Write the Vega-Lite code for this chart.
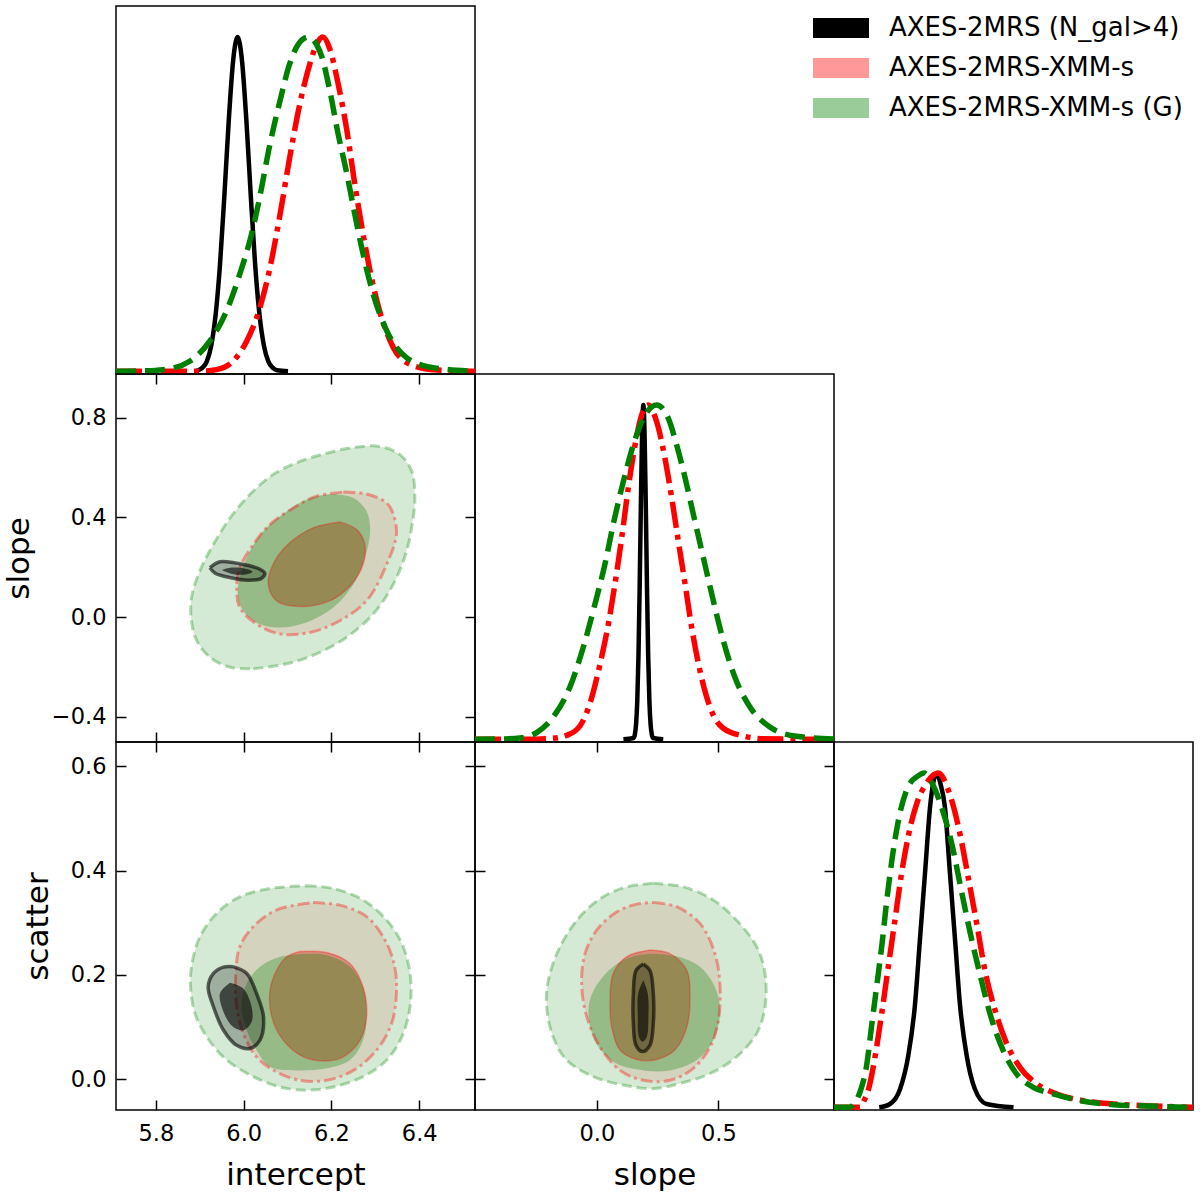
{
  "$schema": "https://vega.github.io/schema/vega-lite/v6.json",
  "padding": {"left": 2, "top": 5, "right": 5, "bottom": 5},
  "columns": 3,
  "spacing": 0,
  "bounds": "flush",
  "resolve": {"scale": {"x": "independent", "y": "independent"}, "axis": {"x": "independent", "y": "independent"}},
  "datasets": {
    "legend": [{"name": "AXES-2MRS (N_gal>4)"}, {"name": "AXES-2MRS-XMM-s"}, {"name": "AXES-2MRS-XMM-s (G)"}],
    "m_intercept_2MRS": [{"x":5.890,"y":0},{"x":5.896,"y":0.003},{"x":5.906,"y":0.011},{"x":5.916,"y":0.03},{"x":5.926,"y":0.077},{"x":5.936,"y":0.169},{"x":5.946,"y":0.32},{"x":5.956,"y":0.527},{"x":5.966,"y":0.752},{"x":5.976,"y":0.931},{"x":5.986,"y":1},{"x":5.996,"y":0.931},{"x":6.006,"y":0.752},{"x":6.016,"y":0.527},{"x":6.026,"y":0.32},{"x":6.036,"y":0.169},{"x":6.046,"y":0.077},{"x":6.056,"y":0.03},{"x":6.066,"y":0.011},{"x":6.076,"y":0.003},{"x":6.101,"y":0}],
    "m_intercept_XMM": [{"x":5.709,"y":0},{"x":5.900,"y":0},{"x":5.938,"y":0.005},{"x":5.976,"y":0.031},{"x":6.007,"y":0.091},{"x":6.037,"y":0.191},{"x":6.060,"y":0.311},{"x":6.083,"y":0.471},{"x":6.105,"y":0.641},{"x":6.128,"y":0.801},{"x":6.151,"y":0.921},{"x":6.165,"y":0.975},{"x":6.180,"y":1},{"x":6.196,"y":0.965},{"x":6.215,"y":0.861},{"x":6.235,"y":0.721},{"x":6.253,"y":0.561},{"x":6.272,"y":0.411},{"x":6.291,"y":0.281},{"x":6.314,"y":0.161},{"x":6.341,"y":0.071},{"x":6.379,"y":0.021},{"x":6.432,"y":0.005},{"x":6.527,"y":0}],
    "m_intercept_XMMG": [{"x":5.709,"y":0},{"x":5.760,"y":0.001},{"x":5.817,"y":0.005},{"x":5.878,"y":0.031},{"x":5.923,"y":0.091},{"x":5.961,"y":0.181},{"x":5.991,"y":0.291},{"x":6.018,"y":0.411},{"x":6.035,"y":0.511},{"x":6.060,"y":0.681},{"x":6.083,"y":0.811},{"x":6.105,"y":0.921},{"x":6.125,"y":0.98},{"x":6.147,"y":1},{"x":6.165,"y":0.98},{"x":6.178,"y":0.941},{"x":6.196,"y":0.841},{"x":6.215,"y":0.711},{"x":6.235,"y":0.591},{"x":6.253,"y":0.471},{"x":6.272,"y":0.351},{"x":6.295,"y":0.231},{"x":6.326,"y":0.121},{"x":6.371,"y":0.041},{"x":6.432,"y":0.011},{"x":6.527,"y":0}],
    "m_slope_2MRS": [{"x":0.109,"y":0},{"x":0.151,"y":0.004},{"x":0.156,"y":0.014},{"x":0.161,"y":0.044},{"x":0.166,"y":0.114},{"x":0.171,"y":0.25},{"x":0.176,"y":0.458},{"x":0.181,"y":0.707},{"x":0.186,"y":0.917},{"x":0.191,"y":1},{"x":0.196,"y":0.917},{"x":0.201,"y":0.707},{"x":0.206,"y":0.458},{"x":0.211,"y":0.25},{"x":0.216,"y":0.114},{"x":0.221,"y":0.044},{"x":0.226,"y":0.014},{"x":0.231,"y":0.004},{"x":0.273,"y":0}],
    "m_slope_XMM": [{"x":-0.502,"y":0},{"x":-0.300,"y":0},{"x":-0.200,"y":0.002},{"x":-0.152,"y":0.006},{"x":-0.124,"y":0.012},{"x":-0.070,"y":0.04},{"x":-0.029,"y":0.107},{"x":0.013,"y":0.226},{"x":0.047,"y":0.345},{"x":0.074,"y":0.464},{"x":0.102,"y":0.603},{"x":0.129,"y":0.752},{"x":0.157,"y":0.881},{"x":0.184,"y":0.970},{"x":0.211,"y":1},{"x":0.246,"y":0.950},{"x":0.280,"y":0.841},{"x":0.308,"y":0.722},{"x":0.335,"y":0.593},{"x":0.363,"y":0.464},{"x":0.390,"y":0.335},{"x":0.424,"y":0.206},{"x":0.465,"y":0.097},{"x":0.520,"y":0.033},{"x":0.602,"y":0.01},{"x":0.685,"y":0.002},{"x":0.976,"y":0}],
    "m_slope_XMMG": [{"x":-0.502,"y":0},{"x":-0.400,"y":0.001},{"x":-0.317,"y":0.004},{"x":-0.248,"y":0.02},{"x":-0.180,"y":0.067},{"x":-0.111,"y":0.157},{"x":-0.056,"y":0.276},{"x":-0.008,"y":0.405},{"x":0.033,"y":0.524},{"x":0.067,"y":0.643},{"x":0.109,"y":0.772},{"x":0.150,"y":0.881},{"x":0.198,"y":0.970},{"x":0.246,"y":1},{"x":0.294,"y":0.960},{"x":0.328,"y":0.881},{"x":0.363,"y":0.782},{"x":0.397,"y":0.673},{"x":0.438,"y":0.544},{"x":0.479,"y":0.415},{"x":0.520,"y":0.296},{"x":0.568,"y":0.186},{"x":0.630,"y":0.097},{"x":0.712,"y":0.037},{"x":0.822,"y":0.009},{"x":0.976,"y":0.001}],
    "m_scatter_2MRS": [{"x":0.030,"y":0},{"x":0.051,"y":0.01},{"x":0.071,"y":0.055},{"x":0.087,"y":0.154},{"x":0.100,"y":0.303},{"x":0.110,"y":0.502},{"x":0.120,"y":0.701},{"x":0.130,"y":0.900},{"x":0.136,"y":0.97},{"x":0.143,"y":1},{"x":0.150,"y":0.97},{"x":0.159,"y":0.900},{"x":0.169,"y":0.701},{"x":0.179,"y":0.502},{"x":0.189,"y":0.303},{"x":0.202,"y":0.154},{"x":0.218,"y":0.055},{"x":0.241,"y":0.01},{"x":0.294,"y":0}],
    "m_scatter_XMM": [{"x":-0.059,"y":0},{"x":-0.008,"y":0},{"x":0.000,"y":0.02},{"x":0.009,"y":0.055},{"x":0.022,"y":0.154},{"x":0.035,"y":0.283},{"x":0.048,"y":0.423},{"x":0.061,"y":0.562},{"x":0.074,"y":0.701},{"x":0.087,"y":0.811},{"x":0.104,"y":0.910},{"x":0.123,"y":0.970},{"x":0.146,"y":1},{"x":0.169,"y":0.935},{"x":0.189,"y":0.816},{"x":0.205,"y":0.687},{"x":0.222,"y":0.547},{"x":0.238,"y":0.408},{"x":0.258,"y":0.289},{"x":0.281,"y":0.189},{"x":0.307,"y":0.119},{"x":0.340,"y":0.070},{"x":0.379,"y":0.040},{"x":0.431,"y":0.020},{"x":0.491,"y":0.010},{"x":0.589,"y":0.003},{"x":0.647,"y":0}],
    "m_scatter_XMMG": [{"x":-0.059,"y":0},{"x":-0.028,"y":0},{"x":-0.018,"y":0.015},{"x":-0.008,"y":0.045},{"x":0.005,"y":0.124},{"x":0.015,"y":0.244},{"x":0.025,"y":0.363},{"x":0.035,"y":0.483},{"x":0.045,"y":0.622},{"x":0.055,"y":0.741},{"x":0.068,"y":0.861},{"x":0.087,"y":0.960},{"x":0.105,"y":0.99},{"x":0.118,"y":1},{"x":0.130,"y":0.98},{"x":0.153,"y":0.896},{"x":0.173,"y":0.786},{"x":0.189,"y":0.667},{"x":0.208,"y":0.528},{"x":0.228,"y":0.398},{"x":0.248,"y":0.279},{"x":0.274,"y":0.169},{"x":0.300,"y":0.100},{"x":0.333,"y":0.060},{"x":0.372,"y":0.040},{"x":0.425,"y":0.020},{"x":0.491,"y":0.008},{"x":0.556,"y":0.004},{"x":0.647,"y":0}],
    "c_IS_XMMG_outer": [{"x":6.022,"y":-0.208},{"x":6.098,"y":-0.188},{"x":6.166,"y":-0.148},{"x":6.234,"y":-0.082},{"x":6.295,"y":0.012},{"x":6.341,"y":0.132},{"x":6.371,"y":0.265},{"x":6.386,"y":0.398},{"x":6.390,"y":0.478},{"x":6.383,"y":0.585},{"x":6.356,"y":0.652},{"x":6.310,"y":0.685},{"x":6.250,"y":0.681},{"x":6.189,"y":0.658},{"x":6.128,"y":0.625},{"x":6.067,"y":0.572},{"x":6.014,"y":0.492},{"x":5.969,"y":0.398},{"x":5.931,"y":0.292},{"x":5.900,"y":0.185},{"x":5.881,"y":0.078},{"x":5.881,"y":-0.015},{"x":5.893,"y":-0.095},{"x":5.923,"y":-0.162},{"x":5.969,"y":-0.202},{"x":6.022,"y":-0.208}],
    "c_IS_XMMG_inner": [{"x":6.204,"y":0.494},{"x":6.250,"y":0.478},{"x":6.280,"y":0.425},{"x":6.288,"y":0.345},{"x":6.276,"y":0.238},{"x":6.250,"y":0.132},{"x":6.204,"y":0.038},{"x":6.143,"y":-0.022},{"x":6.075,"y":-0.042},{"x":6.022,"y":-0.015},{"x":5.991,"y":0.052},{"x":5.988,"y":0.132},{"x":6.007,"y":0.238},{"x":6.045,"y":0.345},{"x":6.098,"y":0.425},{"x":6.151,"y":0.478},{"x":6.204,"y":0.494}],
    "c_IS_XMM_outer": [{"x":6.227,"y":0.502},{"x":6.280,"y":0.494},{"x":6.326,"y":0.458},{"x":6.341,"y":0.412},{"x":6.348,"y":0.332},{"x":6.326,"y":0.212},{"x":6.280,"y":0.065},{"x":6.219,"y":-0.015},{"x":6.151,"y":-0.062},{"x":6.083,"y":-0.068},{"x":6.029,"y":-0.028},{"x":5.991,"y":0.038},{"x":5.984,"y":0.118},{"x":5.991,"y":0.198},{"x":6.022,"y":0.292},{"x":6.060,"y":0.372},{"x":6.113,"y":0.438},{"x":6.166,"y":0.485},{"x":6.227,"y":0.502}],
    "c_IS_XMM_inner": [{"x":6.219,"y":0.382},{"x":6.257,"y":0.352},{"x":6.276,"y":0.292},{"x":6.272,"y":0.212},{"x":6.246,"y":0.132},{"x":6.196,"y":0.065},{"x":6.128,"y":0.042},{"x":6.075,"y":0.065},{"x":6.056,"y":0.132},{"x":6.067,"y":0.212},{"x":6.101,"y":0.292},{"x":6.158,"y":0.358},{"x":6.219,"y":0.382}],
    "c_IS_2MRS_outer": [{"x":5.923,"y":0.198},{"x":5.946,"y":0.222},{"x":5.991,"y":0.214},{"x":6.037,"y":0.192},{"x":6.048,"y":0.176},{"x":6.040,"y":0.155},{"x":6.010,"y":0.148},{"x":5.970,"y":0.158},{"x":5.935,"y":0.176},{"x":5.923,"y":0.198}],
    "c_IS_2MRS_inner": [{"x":5.950,"y":0.189},{"x":5.969,"y":0.198},{"x":5.999,"y":0.196},{"x":6.020,"y":0.182},{"x":6.007,"y":0.172},{"x":5.976,"y":0.172},{"x":5.950,"y":0.189}],
    "c_IC_XMMG_outer": [{"x":6.143,"y":0.371},{"x":6.204,"y":0.366},{"x":6.272,"y":0.344},{"x":6.326,"y":0.305},{"x":6.360,"y":0.261},{"x":6.379,"y":0.203},{"x":6.379,"y":0.139},{"x":6.360,"y":0.081},{"x":6.326,"y":0.037},{"x":6.272,"y":0.005},{"x":6.204,"y":-0.015},{"x":6.143,"y":-0.021},{"x":6.083,"y":-0.015},{"x":6.022,"y":0.005},{"x":5.961,"y":0.037},{"x":5.916,"y":0.081},{"x":5.889,"y":0.126},{"x":5.879,"y":0.177},{"x":5.881,"y":0.216},{"x":5.900,"y":0.273},{"x":5.938,"y":0.318},{"x":5.991,"y":0.350},{"x":6.060,"y":0.366},{"x":6.143,"y":0.371}],
    "c_IC_XMMG_inner": [{"x":6.128,"y":0.240},{"x":6.189,"y":0.238},{"x":6.242,"y":0.216},{"x":6.272,"y":0.177},{"x":6.280,"y":0.126},{"x":6.272,"y":0.075},{"x":6.242,"y":0.037},{"x":6.189,"y":0.021},{"x":6.121,"y":0.017},{"x":6.060,"y":0.024},{"x":6.029,"y":0.056},{"x":6.007,"y":0.094},{"x":5.995,"y":0.139},{"x":6.007,"y":0.184},{"x":6.037,"y":0.216},{"x":6.083,"y":0.235},{"x":6.128,"y":0.240}],
    "c_IC_XMM_outer": [{"x":6.158,"y":0.339},{"x":6.219,"y":0.334},{"x":6.280,"y":0.312},{"x":6.322,"y":0.267},{"x":6.344,"y":0.216},{"x":6.348,"y":0.165},{"x":6.337,"y":0.107},{"x":6.303,"y":0.056},{"x":6.250,"y":0.017},{"x":6.189,"y":-0.002},{"x":6.128,"y":-0.002},{"x":6.075,"y":0.014},{"x":6.029,"y":0.043},{"x":5.999,"y":0.088},{"x":5.984,"y":0.139},{"x":5.982,"y":0.203},{"x":5.991,"y":0.254},{"x":6.022,"y":0.293},{"x":6.075,"y":0.325},{"x":6.158,"y":0.339}],
    "c_IC_XMM_inner": [{"x":6.128,"y":0.245},{"x":6.189,"y":0.243},{"x":6.242,"y":0.222},{"x":6.272,"y":0.177},{"x":6.280,"y":0.120},{"x":6.265,"y":0.075},{"x":6.227,"y":0.043},{"x":6.189,"y":0.035},{"x":6.136,"y":0.043},{"x":6.090,"y":0.075},{"x":6.064,"y":0.120},{"x":6.060,"y":0.171},{"x":6.075,"y":0.209},{"x":6.098,"y":0.235},{"x":6.128,"y":0.245}],
    "c_IC_2MRS_outer": [{"x":5.976,"y":0.216},{"x":6.007,"y":0.203},{"x":6.029,"y":0.165},{"x":6.045,"y":0.120},{"x":6.037,"y":0.075},{"x":6.014,"y":0.059},{"x":5.984,"y":0.065},{"x":5.954,"y":0.094},{"x":5.931,"y":0.139},{"x":5.919,"y":0.177},{"x":5.931,"y":0.203},{"x":5.954,"y":0.215},{"x":5.976,"y":0.216}],
    "c_IC_2MRS_inner": [{"x":5.969,"y":0.185},{"x":5.999,"y":0.174},{"x":6.018,"y":0.139},{"x":6.018,"y":0.110},{"x":5.999,"y":0.094},{"x":5.976,"y":0.100},{"x":5.954,"y":0.129},{"x":5.946,"y":0.165},{"x":5.969,"y":0.185}],
    "c_SC_XMMG_outer": [{"x":0.232,"y":0.376},{"x":0.356,"y":0.369},{"x":0.479,"y":0.344},{"x":0.575,"y":0.305},{"x":0.658,"y":0.254},{"x":0.692,"y":0.203},{"x":0.692,"y":0.139},{"x":0.658,"y":0.088},{"x":0.575,"y":0.043},{"x":0.466,"y":0.011},{"x":0.342,"y":-0.008},{"x":0.232,"y":-0.018},{"x":0.109,"y":-0.011},{"x":-0.015,"y":0.005},{"x":-0.125,"y":0.037},{"x":-0.180,"y":0.081},{"x":-0.207,"y":0.139},{"x":-0.200,"y":0.190},{"x":-0.152,"y":0.254},{"x":-0.070,"y":0.312},{"x":0.026,"y":0.350},{"x":0.122,"y":0.369},{"x":0.232,"y":0.376}],
    "c_SC_XMMG_inner": [{"x":0.218,"y":0.241},{"x":0.328,"y":0.236},{"x":0.424,"y":0.216},{"x":0.486,"y":0.177},{"x":0.507,"y":0.126},{"x":0.479,"y":0.075},{"x":0.411,"y":0.037},{"x":0.301,"y":0.017},{"x":0.191,"y":0.017},{"x":0.081,"y":0.030},{"x":0.006,"y":0.062},{"x":-0.031,"y":0.107},{"x":-0.029,"y":0.152},{"x":0.013,"y":0.190},{"x":0.081,"y":0.221},{"x":0.150,"y":0.236},{"x":0.218,"y":0.241}],
    "c_SC_XMM_outer": [{"x":0.232,"y":0.339},{"x":0.328,"y":0.331},{"x":0.424,"y":0.299},{"x":0.486,"y":0.241},{"x":0.507,"y":0.177},{"x":0.500,"y":0.113},{"x":0.466,"y":0.062},{"x":0.397,"y":0.021},{"x":0.301,"y":-0.002},{"x":0.191,"y":-0.002},{"x":0.095,"y":0.017},{"x":0.013,"y":0.062},{"x":-0.042,"y":0.120},{"x":-0.063,"y":0.184},{"x":-0.049,"y":0.241},{"x":-0.001,"y":0.286},{"x":0.081,"y":0.321},{"x":0.164,"y":0.336},{"x":0.232,"y":0.339}],
    "c_SC_XMM_inner": [{"x":0.218,"y":0.248},{"x":0.301,"y":0.241},{"x":0.370,"y":0.209},{"x":0.383,"y":0.158},{"x":0.370,"y":0.100},{"x":0.321,"y":0.056},{"x":0.246,"y":0.038},{"x":0.164,"y":0.038},{"x":0.095,"y":0.056},{"x":0.061,"y":0.100},{"x":0.054,"y":0.152},{"x":0.067,"y":0.203},{"x":0.122,"y":0.235},{"x":0.218,"y":0.248}],
    "c_SC_2MRS_outer": [{"x":0.191,"y":0.221},{"x":0.218,"y":0.209},{"x":0.232,"y":0.165},{"x":0.232,"y":0.107},{"x":0.218,"y":0.065},{"x":0.188,"y":0.053},{"x":0.161,"y":0.065},{"x":0.150,"y":0.107},{"x":0.150,"y":0.165},{"x":0.161,"y":0.209},{"x":0.191,"y":0.221}],
    "c_SC_2MRS_inner": [{"x":0.191,"y":0.190},{"x":0.209,"y":0.165},{"x":0.212,"y":0.120},{"x":0.205,"y":0.081},{"x":0.188,"y":0.072},{"x":0.173,"y":0.081},{"x":0.168,"y":0.120},{"x":0.170,"y":0.165},{"x":0.191,"y":0.190}]
  },
  "concat": [
    {
      "width": 359, "height": 368,
      "layer": [
        {"data": {"name": "m_intercept_2MRS"}, "mark": {"type": "line", "color": "#000000", "strokeWidth": 4.5, "interpolate": "monotone"},
         "encoding": {"x": {"field": "x", "type": "quantitative", "scale": {"domain": [5.709, 6.527], "nice": false, "zero": false}, "axis": {"orient": "bottom", "values": [5.8, 6.0, 6.2, 6.4], "labels": false, "title": null}},
                      "y": {"field": "y", "type": "quantitative", "scale": {"domain": [-0.008, 1.093], "nice": false, "zero": false}, "axis": null}}},
        {"data": {"name": "m_intercept_XMM"}, "mark": {"type": "line", "color": "#ff0000", "strokeWidth": 5.5, "strokeDash": [26, 7, 5, 7], "interpolate": "monotone"},
         "encoding": {"x": {"field": "x", "type": "quantitative", "axis": null}, "y": {"field": "y", "type": "quantitative", "axis": null}}},
        {"data": {"name": "m_intercept_XMMG"}, "mark": {"type": "line", "color": "#008000", "strokeWidth": 5.5, "strokeDash": [20, 9], "interpolate": "monotone"},
         "encoding": {"x": {"field": "x", "type": "quantitative", "axis": null}, "y": {"field": "y", "type": "quantitative", "axis": null}}},
        {"data": {"name": "legend"}, "mark": {"type": "square", "opacity": 0},
         "encoding": {"fill": {"field": "name", "type": "nominal",
           "scale": {"domain": ["AXES-2MRS (N_gal>4)", "AXES-2MRS-XMM-s", "AXES-2MRS-XMM-s (G)"], "range": ["#000000", "#ff9999", "#99cc99"]},
           "legend": {"title": null, "orient": "none", "legendX": 705, "legendY": 2, "padding": 0, "symbolType": "M-1.4,-0.5H1.4V0.5H-1.4Z", "symbolSize": 1600, "symbolStrokeWidth": 0, "symbolOpacity": 1, "labelFontSize": 26, "labelColor": "#000000", "labelOffset": 28, "labelLimit": 500, "rowPadding": 7}}}}
      ]
    },
    {"width": 359, "height": 368, "view": {"stroke": null}, "data": {"values": []}, "mark": "point"},
    {"width": 359, "height": 368, "view": {"stroke": null}, "data": {"values": []}, "mark": "point"},
    {
      "width": 359, "height": 368,
      "resolve": {"axis": {"x": "independent", "y": "independent"}},
      "encoding": {
        "x": {"field": "x", "type": "quantitative", "scale": {"domain": [5.709, 6.527], "nice": false, "zero": false}, "axis": null},
        "y": {"field": "y", "type": "quantitative", "scale": {"domain": [-0.502, 0.976], "nice": false, "zero": false}, "axis": null},
        "order": {"field": "k", "type": "quantitative"}
      },
      "layer": [
        {"data": {"name": "c_IS_XMM_outer"}, "transform": [{"window": [{"op": "row_number", "as": "k"}]}],
         "mark": {"type": "line", "fill": "#ff0000", "fillOpacity": 0.1, "strokeWidth": 0, "interpolate": "catmull-rom"},
         "encoding": {"x": {"field": "x", "type": "quantitative", "scale": {"domain": [5.709, 6.527], "nice": false, "zero": false}, "axis": {"orient": "bottom", "values": [5.8, 6.0, 6.2, 6.4], "labels": false, "title": null}},
                      "y": {"field": "y", "type": "quantitative", "scale": {"domain": [-0.502, 0.976], "nice": false, "zero": false}, "axis": {"orient": "left", "values": [-0.4, 0, 0.4, 0.8], "format": ".1f", "title": "slope", "titlePadding": 16}}}},
        {"data": {"name": "c_IS_XMM_inner"}, "transform": [{"window": [{"op": "row_number", "as": "k"}]}],
         "mark": {"type": "line", "fill": "#ff0000", "fillOpacity": 0.37, "strokeWidth": 0, "interpolate": "catmull-rom"},
         "encoding": {"x": {"field": "x", "type": "quantitative", "scale": {"domain": [5.709, 6.527], "nice": false, "zero": false}, "axis": {"orient": "top", "values": [5.8, 6.0, 6.2, 6.4], "labels": false, "title": null}},
                      "y": {"field": "y", "type": "quantitative", "scale": {"domain": [-0.502, 0.976], "nice": false, "zero": false}, "axis": {"orient": "right", "values": [-0.4, 0, 0.4, 0.8], "labels": false, "title": null}}}},
        {"data": {"name": "c_IS_XMMG_outer"}, "transform": [{"window": [{"op": "row_number", "as": "k"}]}],
         "mark": {"type": "line", "fill": "#008000", "fillOpacity": 0.17, "strokeWidth": 0, "interpolate": "catmull-rom"}},
        {"data": {"name": "c_IS_XMMG_inner"}, "transform": [{"window": [{"op": "row_number", "as": "k"}]}],
         "mark": {"type": "line", "fill": "#008000", "fillOpacity": 0.29, "strokeWidth": 0, "interpolate": "catmull-rom"}},
        {"data": {"name": "c_IS_XMM_inner"}, "transform": [{"window": [{"op": "row_number", "as": "k"}]}],
         "mark": {"type": "line", "color": "#ff0000", "strokeOpacity": 0.3, "strokeWidth": 1.5, "interpolate": "catmull-rom"}},
        {"data": {"name": "c_IS_XMM_outer"}, "transform": [{"window": [{"op": "row_number", "as": "k"}]}],
         "mark": {"type": "line", "color": "#ff0000", "strokeOpacity": 0.35, "strokeWidth": 3, "strokeDash": [12, 4, 3, 4], "interpolate": "catmull-rom"}},
        {"data": {"name": "c_IS_XMMG_outer"}, "transform": [{"window": [{"op": "row_number", "as": "k"}]}],
         "mark": {"type": "line", "color": "#008000", "strokeOpacity": 0.3, "strokeWidth": 3, "strokeDash": [10, 5], "interpolate": "catmull-rom"}},
        {"data": {"name": "c_IS_2MRS_outer"}, "transform": [{"window": [{"op": "row_number", "as": "k"}]}],
         "mark": {"type": "line", "fill": "#000000", "fillOpacity": 0.25, "stroke": "#000000", "strokeOpacity": 0.6, "strokeWidth": 3.5, "interpolate": "catmull-rom"}},
        {"data": {"name": "c_IS_2MRS_inner"}, "transform": [{"window": [{"op": "row_number", "as": "k"}]}],
         "mark": {"type": "line", "fill": "#000000", "fillOpacity": 0.6, "strokeWidth": 0, "interpolate": "catmull-rom"}}
      ]
    },
    {
      "width": 359, "height": 368,
      "layer": [
        {"data": {"name": "m_slope_2MRS"}, "mark": {"type": "line", "color": "#000000", "strokeWidth": 4.5, "interpolate": "monotone"},
         "encoding": {"x": {"field": "x", "type": "quantitative", "scale": {"domain": [-0.502, 0.976], "nice": false, "zero": false}, "axis": {"orient": "bottom", "values": [0, 0.5], "labels": false, "title": null}},
                      "y": {"field": "y", "type": "quantitative", "scale": {"domain": [-0.008, 1.093], "nice": false, "zero": false}, "axis": null}}},
        {"data": {"name": "m_slope_XMM"}, "mark": {"type": "line", "color": "#ff0000", "strokeWidth": 5.5, "strokeDash": [26, 7, 5, 7], "interpolate": "monotone"},
         "encoding": {"x": {"field": "x", "type": "quantitative", "axis": null}, "y": {"field": "y", "type": "quantitative", "axis": null}}},
        {"data": {"name": "m_slope_XMMG"}, "mark": {"type": "line", "color": "#008000", "strokeWidth": 5.5, "strokeDash": [20, 9], "interpolate": "monotone"},
         "encoding": {"x": {"field": "x", "type": "quantitative", "axis": null}, "y": {"field": "y", "type": "quantitative", "axis": null}}}
      ]
    },
    {"width": 359, "height": 368, "view": {"stroke": null}, "data": {"values": []}, "mark": "point"},
    {
      "width": 359, "height": 368,
      "resolve": {"axis": {"x": "independent", "y": "independent"}},
      "encoding": {
        "x": {"field": "x", "type": "quantitative", "scale": {"domain": [5.709, 6.527], "nice": false, "zero": false}, "axis": null},
        "y": {"field": "y", "type": "quantitative", "scale": {"domain": [-0.059, 0.647], "nice": false, "zero": false}, "axis": null},
        "order": {"field": "k", "type": "quantitative"}
      },
      "layer": [
        {"data": {"name": "c_IC_XMM_outer"}, "transform": [{"window": [{"op": "row_number", "as": "k"}]}],
         "mark": {"type": "line", "fill": "#ff0000", "fillOpacity": 0.1, "strokeWidth": 0, "interpolate": "catmull-rom"},
         "encoding": {"x": {"field": "x", "type": "quantitative", "scale": {"domain": [5.709, 6.527], "nice": false, "zero": false}, "axis": {"orient": "bottom", "values": [5.8, 6.0, 6.2, 6.4], "format": ".1f", "title": "intercept"}},
                      "y": {"field": "y", "type": "quantitative", "scale": {"domain": [-0.059, 0.647], "nice": false, "zero": false}, "axis": {"orient": "left", "values": [0, 0.2, 0.4, 0.6], "format": ".1f", "title": "scatter", "titlePadding": 16}}}},
        {"data": {"name": "c_IC_XMM_inner"}, "transform": [{"window": [{"op": "row_number", "as": "k"}]}],
         "mark": {"type": "line", "fill": "#ff0000", "fillOpacity": 0.37, "strokeWidth": 0, "interpolate": "catmull-rom"},
         "encoding": {"x": {"field": "x", "type": "quantitative", "scale": {"domain": [5.709, 6.527], "nice": false, "zero": false}, "axis": {"orient": "top", "values": [5.8, 6.0, 6.2, 6.4], "labels": false, "title": null}},
                      "y": {"field": "y", "type": "quantitative", "scale": {"domain": [-0.059, 0.647], "nice": false, "zero": false}, "axis": {"orient": "right", "values": [0, 0.2, 0.4, 0.6], "labels": false, "title": null}}}},
        {"data": {"name": "c_IC_XMMG_outer"}, "transform": [{"window": [{"op": "row_number", "as": "k"}]}],
         "mark": {"type": "line", "fill": "#008000", "fillOpacity": 0.17, "strokeWidth": 0, "interpolate": "catmull-rom"}},
        {"data": {"name": "c_IC_XMMG_inner"}, "transform": [{"window": [{"op": "row_number", "as": "k"}]}],
         "mark": {"type": "line", "fill": "#008000", "fillOpacity": 0.29, "strokeWidth": 0, "interpolate": "catmull-rom"}},
        {"data": {"name": "c_IC_XMM_inner"}, "transform": [{"window": [{"op": "row_number", "as": "k"}]}],
         "mark": {"type": "line", "color": "#ff0000", "strokeOpacity": 0.3, "strokeWidth": 1.5, "interpolate": "catmull-rom"}},
        {"data": {"name": "c_IC_XMM_outer"}, "transform": [{"window": [{"op": "row_number", "as": "k"}]}],
         "mark": {"type": "line", "color": "#ff0000", "strokeOpacity": 0.35, "strokeWidth": 3, "strokeDash": [12, 4, 3, 4], "interpolate": "catmull-rom"}},
        {"data": {"name": "c_IC_XMMG_outer"}, "transform": [{"window": [{"op": "row_number", "as": "k"}]}],
         "mark": {"type": "line", "color": "#008000", "strokeOpacity": 0.3, "strokeWidth": 3, "strokeDash": [10, 5], "interpolate": "catmull-rom"}},
        {"data": {"name": "c_IC_2MRS_outer"}, "transform": [{"window": [{"op": "row_number", "as": "k"}]}],
         "mark": {"type": "line", "fill": "#000000", "fillOpacity": 0.25, "stroke": "#000000", "strokeOpacity": 0.6, "strokeWidth": 3.5, "interpolate": "catmull-rom"}},
        {"data": {"name": "c_IC_2MRS_inner"}, "transform": [{"window": [{"op": "row_number", "as": "k"}]}],
         "mark": {"type": "line", "fill": "#000000", "fillOpacity": 0.6, "strokeWidth": 0, "interpolate": "catmull-rom"}}
      ]
    },
    {
      "width": 359, "height": 368,
      "resolve": {"axis": {"x": "independent", "y": "independent"}},
      "encoding": {
        "x": {"field": "x", "type": "quantitative", "scale": {"domain": [-0.502, 0.976], "nice": false, "zero": false}, "axis": null},
        "y": {"field": "y", "type": "quantitative", "scale": {"domain": [-0.059, 0.647], "nice": false, "zero": false}, "axis": null},
        "order": {"field": "k", "type": "quantitative"}
      },
      "layer": [
        {"data": {"name": "c_SC_XMM_outer"}, "transform": [{"window": [{"op": "row_number", "as": "k"}]}],
         "mark": {"type": "line", "fill": "#ff0000", "fillOpacity": 0.1, "strokeWidth": 0, "interpolate": "catmull-rom"},
         "encoding": {"x": {"field": "x", "type": "quantitative", "scale": {"domain": [-0.502, 0.976], "nice": false, "zero": false}, "axis": {"orient": "bottom", "values": [0, 0.5], "format": ".1f", "title": "slope"}},
                      "y": {"field": "y", "type": "quantitative", "scale": {"domain": [-0.059, 0.647], "nice": false, "zero": false}, "axis": {"orient": "left", "values": [0, 0.2, 0.4, 0.6], "labels": false, "title": null}}}},
        {"data": {"name": "c_SC_XMM_inner"}, "transform": [{"window": [{"op": "row_number", "as": "k"}]}],
         "mark": {"type": "line", "fill": "#ff0000", "fillOpacity": 0.37, "strokeWidth": 0, "interpolate": "catmull-rom"},
         "encoding": {"x": {"field": "x", "type": "quantitative", "scale": {"domain": [-0.502, 0.976], "nice": false, "zero": false}, "axis": {"orient": "top", "values": [0, 0.5], "labels": false, "title": null}},
                      "y": {"field": "y", "type": "quantitative", "scale": {"domain": [-0.059, 0.647], "nice": false, "zero": false}, "axis": {"orient": "right", "values": [0, 0.2, 0.4, 0.6], "labels": false, "title": null}}}},
        {"data": {"name": "c_SC_XMMG_outer"}, "transform": [{"window": [{"op": "row_number", "as": "k"}]}],
         "mark": {"type": "line", "fill": "#008000", "fillOpacity": 0.17, "strokeWidth": 0, "interpolate": "catmull-rom"}},
        {"data": {"name": "c_SC_XMMG_inner"}, "transform": [{"window": [{"op": "row_number", "as": "k"}]}],
         "mark": {"type": "line", "fill": "#008000", "fillOpacity": 0.29, "strokeWidth": 0, "interpolate": "catmull-rom"}},
        {"data": {"name": "c_SC_XMM_inner"}, "transform": [{"window": [{"op": "row_number", "as": "k"}]}],
         "mark": {"type": "line", "color": "#ff0000", "strokeOpacity": 0.3, "strokeWidth": 1.5, "interpolate": "catmull-rom"}},
        {"data": {"name": "c_SC_XMM_outer"}, "transform": [{"window": [{"op": "row_number", "as": "k"}]}],
         "mark": {"type": "line", "color": "#ff0000", "strokeOpacity": 0.35, "strokeWidth": 3, "strokeDash": [12, 4, 3, 4], "interpolate": "catmull-rom"}},
        {"data": {"name": "c_SC_XMMG_outer"}, "transform": [{"window": [{"op": "row_number", "as": "k"}]}],
         "mark": {"type": "line", "color": "#008000", "strokeOpacity": 0.3, "strokeWidth": 3, "strokeDash": [10, 5], "interpolate": "catmull-rom"}},
        {"data": {"name": "c_SC_2MRS_outer"}, "transform": [{"window": [{"op": "row_number", "as": "k"}]}],
         "mark": {"type": "line", "fill": "#000000", "fillOpacity": 0.25, "stroke": "#000000", "strokeOpacity": 0.6, "strokeWidth": 3.5, "interpolate": "catmull-rom"}},
        {"data": {"name": "c_SC_2MRS_inner"}, "transform": [{"window": [{"op": "row_number", "as": "k"}]}],
         "mark": {"type": "line", "fill": "#000000", "fillOpacity": 0.6, "strokeWidth": 0, "interpolate": "catmull-rom"}}
      ]
    },
    {
      "width": 359, "height": 368,
      "layer": [
        {"data": {"name": "m_scatter_2MRS"}, "mark": {"type": "line", "color": "#000000", "strokeWidth": 4.5, "interpolate": "monotone"},
         "encoding": {"x": {"field": "x", "type": "quantitative", "scale": {"domain": [-0.059, 0.647], "nice": false, "zero": false}, "axis": {"orient": "bottom", "values": [0, 0.2, 0.4, 0.6], "format": ".1f", "title": "scatter"}},
                      "y": {"field": "y", "type": "quantitative", "scale": {"domain": [-0.008, 1.093], "nice": false, "zero": false}, "axis": null}}},
        {"data": {"name": "m_scatter_XMM"}, "mark": {"type": "line", "color": "#ff0000", "strokeWidth": 5.5, "strokeDash": [26, 7, 5, 7], "interpolate": "monotone"},
         "encoding": {"x": {"field": "x", "type": "quantitative", "axis": null}, "y": {"field": "y", "type": "quantitative", "axis": null}}},
        {"data": {"name": "m_scatter_XMMG"}, "mark": {"type": "line", "color": "#008000", "strokeWidth": 5.5, "strokeDash": [20, 9], "interpolate": "monotone"},
         "encoding": {"x": {"field": "x", "type": "quantitative", "axis": null}, "y": {"field": "y", "type": "quantitative", "axis": null}}}
      ]
    }
  ],
  "config": {
    "font": "DejaVu Sans",
    "view": {"stroke": "#000000", "strokeWidth": 1.5},
    "axis": {"grid": false, "domain": false, "tickSize": 10, "offset": -10, "tickWidth": 1.5, "tickColor": "#000000", "labelFontSize": 22.5, "labelColor": "#000000", "labelFlush": false, "labelOverlap": false, "titleFontSize": 31, "titleFontWeight": "normal", "titleColor": "#000000", "titlePadding": 16},
    "axisX": {"labelPadding": 12},
    "axisY": {"labelPadding": 10}
  }
}
